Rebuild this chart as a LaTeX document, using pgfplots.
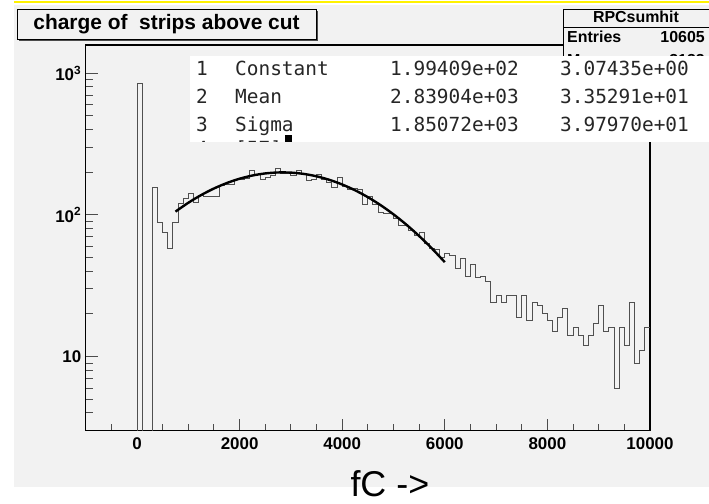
\documentclass[border=0pt]{standalone}
\usepackage{pgfplots}
\pgfplotsset{compat=1.18}
\usepackage{fontspec}
\setmainfont{Liberation Sans}
\newfontfamily\monofont{DejaVu Sans Mono}
\definecolor{canvas}{RGB}{242,242,242}
\definecolor{histline}{RGB}{80,80,80}
\newcommand{\fs}[1]{\fontsize{#1}{#1}\selectfont}

\begin{document}
\begin{tikzpicture}[x=1bp,y=1bp]
\useasboundingbox (0,0) rectangle (709,504);
\fill[white] (0,0) rectangle (709,504);
% canvas (image y from 5 to 487)
\fill[canvas] (14,17) rectangle (709,499);
\fill[yellow] (14,500.5) rectangle (709,502.5);

\begin{axis}[
    at={(85.7bp,73.3bp)}, anchor=south west,
    scale only axis, width=564.3bp, height=385.7bp,
    xmin=-1000, xmax=10000,
    ymode=log, ymin=3, ymax=1580,
    axis line style={black, line width=1.2bp},
    tick pos=left, tick align=inside,
    scaled x ticks=false,
    xtick={0,2000,4000,6000,8000,10000},
    xticklabels={0,2000,4000,6000,8000,10000},
    minor xtick={-500,0,...,10000},
    ytick={10,100,1000},
    yticklabels={10,10\textsuperscript{2},10\textsuperscript{3}},
    minor ytick={3,4,...,9,20,30,...,90,200,300,...,900},
    major tick length=12bp, minor tick length=7bp,
    every tick/.style={black!70, line width=1bp},
    tick label style={font=\bfseries\fs{17}},
    xticklabel style={yshift=-3bp},
    yticklabel style={xshift=-1bp},
    xlabel={fC ->},
    xlabel style={font=\fs{36}, inner sep=0pt, at={(axis description cs:0.539,0)}, anchor=center, yshift=-53bp},
]
% histogram, 100 fC bins
\addplot[const plot mark left, histline, line width=1bp] coordinates {
 (0,0.01) (0,851) (100,0.01) (200,0.01) (300,155) (400,88) (500,75) (600,58)
 (700,89) (800,121) (900,130) (1000,141) (1100,122) (1200,138) (1300,134)
 (1400,134) (1500,134) (1600,161) (1700,165) (1800,163) (1900,177) (2000,178)
 (2100,180) (2200,205) (2300,192) (2400,177) (2500,185) (2600,190) (2700,214)
 (2800,195) (2900,195) (3000,190) (3100,206) (3200,192) (3300,175) (3400,178)
 (3500,192) (3600,178) (3700,170) (3800,157) (3900,185) (4000,158) (4100,150)
 (4200,153) (4300,150) (4400,118) (4500,134) (4600,118) (4700,104) (4800,103)
 (4900,103) (5000,94) (5100,84) (5200,84) (5300,78) (5400,72) (5500,75)
 (5600,63) (5700,58) (5800,57) (5900,50) (6000,53) (6100,52) (6200,42)
 (6300,49) (6400,37) (6500,45) (6600,36) (6700,37) (6800,34) (6900,24)
 (7000,27) (7100,24) (7200,27) (7300,27) (7400,19) (7500,27) (7600,18)
 (7700,24) (7800,23) (7900,20) (8000,18) (8100,15) (8200,19) (8300,22)
 (8400,14) (8500,16) (8600,14) (8700,12) (8800,14) (8900,17) (9000,23)
 (9100,15) (9200,16) (9300,6) (9400,16) (9500,12) (9600,24) (9700,9)
 (9800,11) (9900,16) (10000,16)
};
% gaussian fit, 750 to 6000
\addplot[black, line width=2.4bp, smooth] coordinates {
 (750,105.46) (1000,121.71) (1250,137.93) (1500,153.49) (1750,167.71)
 (2000,179.93) (2250,189.56) (2500,196.09) (2750,199.18) (3000,198.66)
 (3250,194.55) (3500,187.09) (3750,176.66) (4000,163.79) (4250,149.12)
 (4500,133.30) (4750,117.01) (5000,100.85) (5250,85.35) (5500,70.93)
 (5750,57.88) (6000,46.37)
};
\end{axis}

% stats box (top right)
\fill[black!70] (565,504-70) rectangle (712,504-11);
\filldraw[fill=canvas, draw=black, line width=0.8bp] (563,504-68) rectangle (712,504-9);
\draw[black, line width=0.8bp] (563,504-27) -- (712,504-27);
\begin{scope}[font=\bfseries\fs{16}, inner sep=0pt]
\node[anchor=base] at (636,504-23) {RPCsumhit};
\node[anchor=base west] at (567,504-43) {Entries};
\node[anchor=base east] at (705,504-43) {10605};
\node[anchor=base west] at (567,504-66) {Mean};
\node[anchor=base east] at (705,504-66) {3133};
\end{scope}

% title box
\fill[black!70] (19,504-41) rectangle (318,504-11);
\filldraw[fill=canvas, draw=black, line width=0.8bp] (17,504-39) rectangle (316,504-9);
\node[anchor=center, font=\bfseries\fs{21}] at (166.5,504-24) {charge of\ \ strips above cut};

% fit parameter window
\fill[white] (190,504-141.7) rectangle (709,504-55.7);
\begin{scope}[font=\monofont\fs{19.5}, text=black!85]
\node[anchor=base west, inner sep=0] at (196,504-75.7) {1};
\node[anchor=base west, inner sep=0] at (235,504-75.7) {Constant};
\node[anchor=base west, inner sep=0] at (390,504-75.7) {1.99409e+02};
\node[anchor=base west, inner sep=0] at (560,504-75.7) {3.07435e+00};
\node[anchor=base west, inner sep=0] at (196,504-103.4) {2};
\node[anchor=base west, inner sep=0] at (235,504-103.4) {Mean};
\node[anchor=base west, inner sep=0] at (390,504-103.4) {2.83904e+03};
\node[anchor=base west, inner sep=0] at (560,504-103.4) {3.35291e+01};
\node[anchor=base west, inner sep=0] at (196,504-131.1) {3};
\node[anchor=base west, inner sep=0] at (235,504-131.1) {Sigma};
\node[anchor=base west, inner sep=0] at (390,504-131.1) {1.85072e+03};
\node[anchor=base west, inner sep=0] at (560,504-131.1) {3.97970e+01};
\begin{scope}
\clip (190,504-141.7) rectangle (709,504-55.7);
\node[anchor=base west, inner sep=0] at (196,504-156) {4};
\node[anchor=base west, inner sep=0] at (235,504-156) {[57]};
\fill[black] (285,504-141.7) rectangle (292,504-135);
\end{scope}
\end{scope}
\end{tikzpicture}
\end{document}
